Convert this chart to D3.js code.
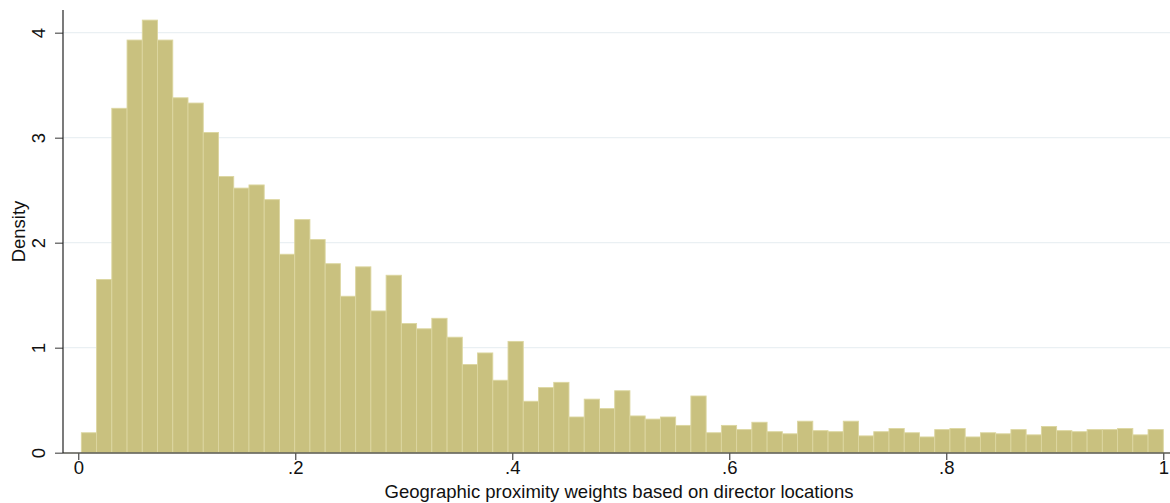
<!DOCTYPE html>
<html>
<head>
<meta charset="utf-8">
<script src="https://cdn.jsdelivr.net/npm/d3@7"></script>
<style>
  html, body { margin: 0; padding: 0; background: #fff; }
  svg { display: block; font-family: "Liberation Sans", Arial, sans-serif; }
</style>
</head>
<body>
<svg id="chart" width="1170" height="503"></svg>
<script>
// Histogram data: 71 equal-width bins from binStart to binEnd (density values)
const binStart = 0.0028;
const binEnd = 1.0;
const densities = [
  0.19, 1.65, 3.28, 3.93, 4.12, 3.93, 3.38, 3.33, 3.05, 2.63,
  2.52, 2.55, 2.41, 1.89, 2.22, 2.03, 1.80, 1.49, 1.77, 1.35,
  1.69, 1.23, 1.18, 1.28, 1.10, 0.84, 0.95, 0.69, 1.06, 0.49,
  0.62, 0.67, 0.34, 0.51, 0.42, 0.59, 0.35, 0.32, 0.34, 0.26,
  0.54, 0.19, 0.26, 0.22, 0.29, 0.20, 0.18, 0.30, 0.21, 0.20,
  0.30, 0.16, 0.20, 0.23, 0.19, 0.15, 0.22, 0.23, 0.15, 0.19,
  0.18, 0.22, 0.17, 0.25, 0.21, 0.20, 0.22, 0.22, 0.23, 0.17,
  0.22
];
const xTicks = [0, 0.2, 0.4, 0.6, 0.8, 1];
const xTickLabels = ["0", ".2", ".4", ".6", ".8", "1"];
const yTicks = [0, 1, 2, 3, 4];
const yTickLabels = ["0", "1", "2", "3", "4"];
const xTitle = "Geographic proximity weights based on director locations";
const yTitle = "Density";

const FONT = 18.5;
const svg = d3.select("#chart");
const plot = { left: 63, right: 1170, top: 10, bottom: 453 };

const x = d3.scaleLinear().domain([0, 1]).range([78.3, 1163.3]);
const y = d3.scaleLinear().domain([0, 4]).range([452.7, 32.7]);

const binW = (binEnd - binStart) / densities.length;
const bins = densities.map((d, i) => ({ x0: binStart + i * binW, x1: binStart + (i + 1) * binW, v: d }));

// grid lines
svg.append("g").selectAll("line")
  .data(yTicks.filter(t => t > 0))
  .join("line")
  .attr("x1", plot.left).attr("x2", plot.right)
  .attr("y1", d => y(d)).attr("y2", d => y(d))
  .attr("stroke", "#eaf0f3").attr("stroke-width", 1.2);

// bars
svg.append("g").selectAll("rect")
  .data(bins)
  .join("rect")
  .attr("x", d => x(d.x0))
  .attr("width", d => x(d.x1) - x(d.x0))
  .attr("y", d => y(d.v))
  .attr("height", d => y(0) - y(d.v))
  .attr("fill", "#c9c17f")
  .attr("stroke", "#dcd6a0")
  .attr("stroke-width", 0.9);

// x axis
const xAxis = d3.axisBottom(x).tickValues(xTicks)
  .tickFormat((d, i) => xTickLabels[i]).tickSize(7).tickPadding(1);
const gx = svg.append("g").attr("transform", `translate(0,${plot.bottom})`).call(xAxis);
gx.select(".domain").remove();
gx.append("line").attr("x1", plot.left).attr("x2", plot.right)
  .attr("y1", 0).attr("y2", 0).attr("stroke", "#595950").attr("stroke-width", 1.6);
gx.selectAll(".tick line").attr("stroke", "#222").attr("stroke-width", 1);
gx.selectAll(".tick text").attr("font-size", FONT).attr("fill", "#111")
  .attr("font-family", "'Liberation Sans', Arial, sans-serif");

// y axis
const yAxis = d3.axisLeft(y).tickValues(yTicks)
  .tickFormat((d, i) => yTickLabels[i]).tickSize(8).tickPadding(0);
const gy = svg.append("g").attr("transform", `translate(${plot.left},0)`).call(yAxis);
gy.select(".domain").remove();
gy.append("line").attr("x1", 0).attr("x2", 0)
  .attr("y1", plot.top).attr("y2", plot.bottom).attr("stroke", "#222").attr("stroke-width", 1.2);
gy.selectAll(".tick line").attr("stroke", "#555").attr("stroke-width", 1.2);
gy.selectAll(".tick text")
  .attr("font-size", FONT).attr("fill", "#111")
  .attr("font-family", "'Liberation Sans', Arial, sans-serif")
  .attr("text-anchor", "middle")
  .attr("dy", null)
  .attr("x", null)
  .attr("transform", "translate(-25,0) rotate(-90)")
  .attr("dominant-baseline", "central");

// axis titles
svg.append("text")
  .attr("x", 619)
  .attr("y", 498)
  .attr("text-anchor", "middle")
  .attr("font-size", FONT).attr("fill", "#111")
  .text(xTitle);

svg.append("text")
  .attr("transform", `translate(25,${(plot.top + plot.bottom) / 2}) rotate(-90)`)
  .attr("text-anchor", "middle")
  .attr("font-size", FONT).attr("fill", "#111")
  .text(yTitle);
</script>
</body>
</html>
